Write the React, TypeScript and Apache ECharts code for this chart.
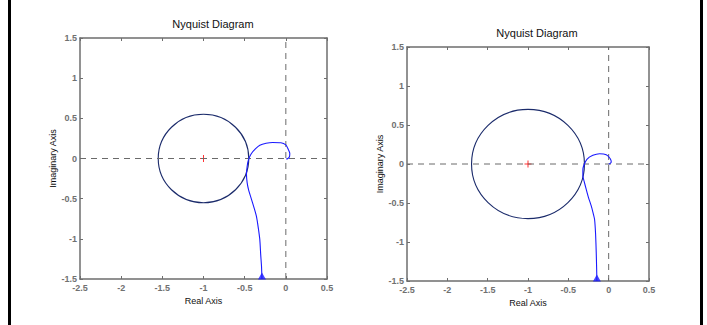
import React, { useEffect, useRef } from "react";
import * as echarts from "echarts";

const xTicks = { min: -2.5, max: 0.5, interval: 0.5 };
const yTicks = { min: -1.5, max: 1.5, interval: 0.5 };

const titles = ["Nyquist Diagram", "Nyquist Diagram"];
const xName = "Real Axis";
const yName = "Imaginary Axis";

// critical point (-1, 0)
const criticalPoint = [-1, 0];

// circles: [centerX, centerY, radius]
const circleLeft = [-1, 0, 0.55];
const circleRight = [-1, 0, 0.7];

// Nyquist curve (left panel)
const leftX = [-0.29, -0.295, -0.305, -0.316, -0.335, -0.357, -0.39, -0.42, -0.45, -0.47, -0.478, -0.47, -0.455, -0.42, -0.37, -0.316, -0.24, -0.16, -0.06, 0.0, 0.025, 0.048, 0.045, 0.025, 0.005, 0];
const leftY = [-1.5, -1.35, -1.2, -1.01, -0.86, -0.72, -0.6, -0.5, -0.4, -0.3, -0.2, -0.1, -0.02, 0.06, 0.12, 0.165, 0.19, 0.2, 0.197, 0.17, 0.125, 0.065, 0.025, 0.0, -0.005, 0];

// Nyquist curve (right panel)
const rightX = [-0.146, -0.15, -0.154, -0.162, -0.175, -0.195, -0.216, -0.25, -0.278, -0.305, -0.32, -0.32, -0.311, -0.27, -0.196, -0.113, -0.03, 0.02, 0.032, 0.015, 0];
const rightY = [-1.5, -1.3, -1.137, -0.9, -0.709, -0.62, -0.538, -0.43, -0.325, -0.22, -0.154, -0.08, -0.026, 0.06, 0.111, 0.132, 0.12, 0.068, 0.026, 0.004, 0];

const zip = (a: number[], b: number[]) => a.map((v, i) => [v, b[i]]);

const AXIS_COLOR = "#6e6e6e";
const LABEL_COLOR = "#707070";

function makeAxes(gridIndex: number, yGap: number) {
  const common = {
    gridIndex,
    type: "value",
    axisLine: { show: true, onZero: false, lineStyle: { color: AXIS_COLOR, width: 1.5 } },
    axisTick: { show: true, inside: true, length: 3, lineStyle: { color: AXIS_COLOR } },
    splitLine: { show: false },
  };
  const labelStyle = {
    color: LABEL_COLOR,
    fontSize: 9,
    fontWeight: "bold" as const,
    fontFamily: "Liberation Sans, Arial, sans-serif",
    showMinLabel: true,
    showMaxLabel: true,
    formatter: (v: number) => String(Math.round(v * 10) / 10),
  };
  const nameStyle = { color: "#111", fontSize: 9, fontFamily: "Liberation Sans, Arial, sans-serif" };
  const xs = [
    {
      ...common,
      ...xTicks,
      position: "bottom",
      axisLabel: { ...labelStyle, margin: 4 },
      name: xName,
      nameLocation: "middle",
      nameGap: 17,
      nameTextStyle: nameStyle,
    },
    { ...common, ...xTicks, position: "top", axisLabel: { show: false } },
  ];
  const ys = [
    {
      ...common,
      ...yTicks,
      position: "left",
      axisLabel: { ...labelStyle, margin: 3 },
      name: yName,
      nameLocation: "middle",
      nameGap: yGap,
      nameTextStyle: nameStyle,
    },
    { ...common, ...yTicks, position: "right", axisLabel: { show: false } },
  ];
  return { xs, ys };
}

function panelSeries(axisIdx: number, circle: number[], curve: number[][]) {
  const dashStyle = { color: "#6a6a6a", width: 1, type: [6, 5] as number[] };
  return [
    {
      type: "line",
      xAxisIndex: axisIdx,
      yAxisIndex: axisIdx,
      data: [[xTicks.min, 0], [xTicks.max, 0]],
      showSymbol: false,
      lineStyle: dashStyle,
      silent: true,
    },
    {
      type: "line",
      xAxisIndex: axisIdx,
      yAxisIndex: axisIdx,
      data: [[0, yTicks.min], [0, yTicks.max]],
      showSymbol: false,
      lineStyle: dashStyle,
      silent: true,
    },
    {
      type: "custom",
      xAxisIndex: axisIdx,
      yAxisIndex: axisIdx,
      data: [circle],
      renderItem: (_p: any, api: any) => {
        const c = api.coord([api.value(0), api.value(1)]);
        const s = api.size([api.value(2), api.value(2)]);
        return {
          type: "ellipse",
          shape: { cx: c[0], cy: c[1], rx: s[0], ry: s[1] },
          style: { fill: "none", stroke: "#1b2b6b", lineWidth: 1.1 },
        };
      },
      silent: true,
    },
    {
      type: "line",
      xAxisIndex: axisIdx,
      yAxisIndex: axisIdx,
      data: curve,
      showSymbol: false,
      smooth: 0.2,
      lineStyle: { color: "#1a1aff", width: 1.1 },
      silent: true,
    },
    {
      type: "scatter",
      xAxisIndex: axisIdx,
      yAxisIndex: axisIdx,
      data: [curve[0]],
      symbol: "triangle",
      symbolSize: [8, 7],
      symbolOffset: [0, -3],
      itemStyle: { color: "#1a1aff" },
      clip: false,
      silent: true,
    },
    {
      type: "scatter",
      xAxisIndex: axisIdx,
      yAxisIndex: axisIdx,
      data: [criticalPoint],
      symbol: "path://M5,0L5,10M0,5L10,5",
      symbolSize: 7,
      itemStyle: { color: "transparent", borderColor: "#ff0000", borderWidth: 1 },
      silent: true,
    },
  ];
}

export default function App() {
  const ref = useRef<HTMLDivElement>(null);
  useEffect(() => {
    if (!ref.current) return;
    const chart = echarts.init(ref.current, undefined, { renderer: "svg" });
    const a0 = makeAxes(0, 23);
    const a1 = makeAxes(1, 22);
    chart.setOption({
      animation: false,
      backgroundColor: "#ffffff",
      title: [
        {
          text: titles[0],
          left: 208,
          top: 13,
          textAlign: "center",
          textStyle: { fontSize: 11, fontWeight: "normal", color: "#111", fontFamily: "Liberation Sans, Arial, sans-serif" },
        },
        {
          text: titles[1],
          left: 532,
          top: 22,
          textAlign: "center",
          textStyle: { fontSize: 11, fontWeight: "normal", color: "#111", fontFamily: "Liberation Sans, Arial, sans-serif" },
        },
      ],
      grid: [
        { left: 80, top: 38, width: 247, height: 241 },
        { left: 407, top: 47, width: 242, height: 234 },
      ],
      xAxis: [...a0.xs, ...a1.xs],
      yAxis: [...a0.ys, ...a1.ys],
      series: [
        ...panelSeries(0, circleLeft, zip(leftX, leftY)),
        ...panelSeries(2, circleRight, zip(rightX, rightY)),
      ],
      graphic: [
        { type: "rect", shape: { x: 8, y: 0, width: 3, height: 325 }, style: { fill: "#000" }, silent: true },
        { type: "rect", shape: { x: 700, y: 0, width: 3, height: 325 }, style: { fill: "#000" }, silent: true },
      ],
    });
    return () => chart.dispose();
  }, []);
  return (
    <div
      ref={ref}
      style={{ position: "absolute", left: 0, top: 0, width: 707, height: 325 }}
    />
  );
}
